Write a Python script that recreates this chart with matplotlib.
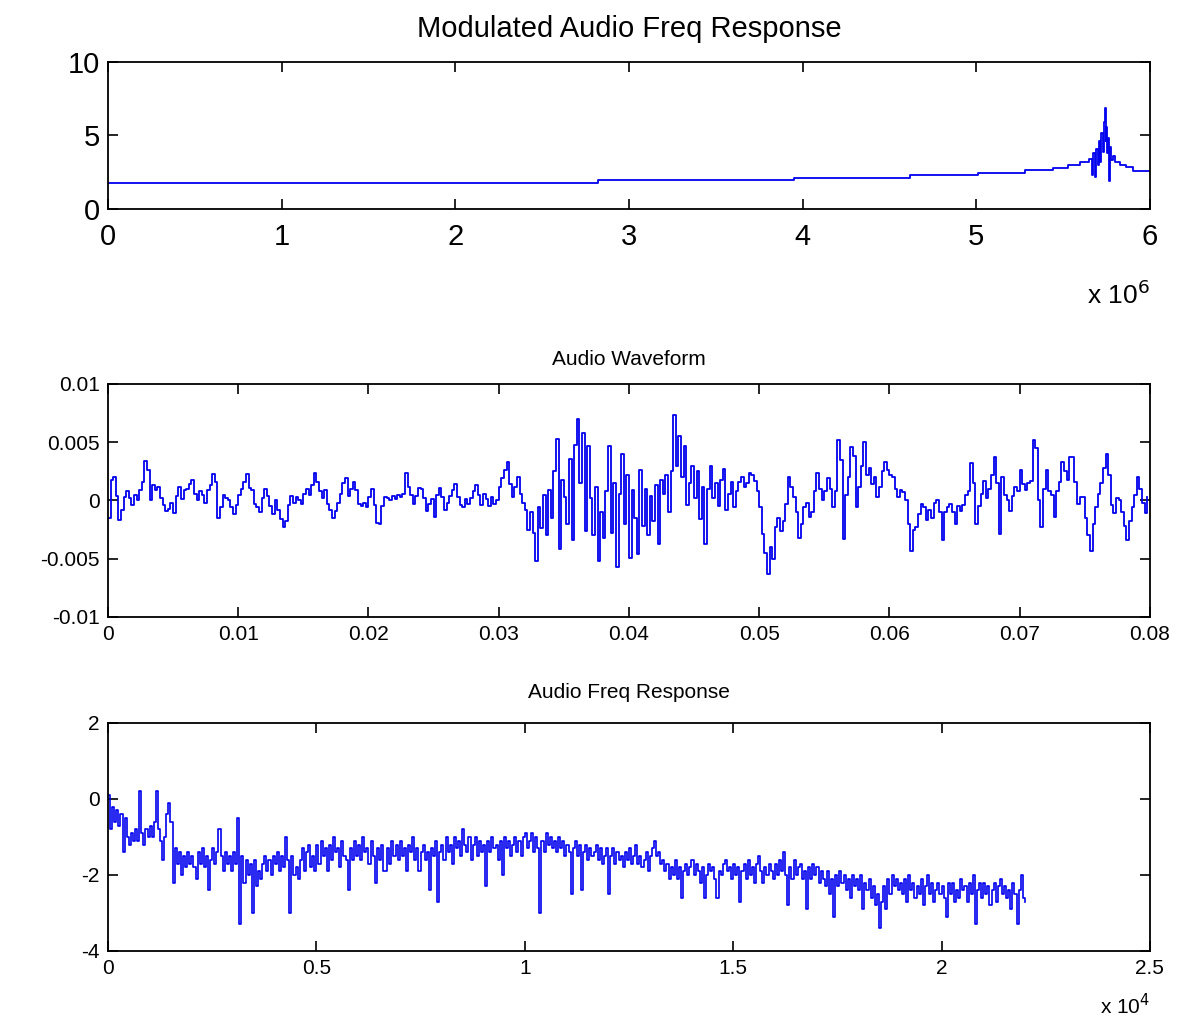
import matplotlib
matplotlib.use("Agg")
import matplotlib.pyplot as plt
import numpy as np

# --- modulated spectrum (x in units of 1e6) ---
MOD_FREQ = [0.00, 2.82, 3.95, 4.62, 5.01, 5.28, 5.44, 5.53, 5.60, 5.65,
            5.665, 5.675, 5.685, 5.69, 5.70, 5.705, 5.715, 5.72, 5.73, 5.735,
            5.74, 5.745, 5.75, 5.755, 5.76, 5.765, 5.77, 5.775, 5.785, 5.80,
            5.83, 5.86, 5.90, 6.00]
MOD_MAG = [1.78, 1.95, 2.12, 2.30, 2.46, 2.64, 2.82, 3.0, 3.2, 3.4,
           2.3, 3.8, 2.2, 4.1, 3.0, 4.6, 3.2, 5.2, 3.9, 5.9,
           6.9, 4.6, 5.6, 3.8, 4.8, 1.9, 4.2, 3.3, 3.6, 3.2,
           3.0, 2.85, 2.6, 2.6]

# --- audio waveform, 400 samples over 0.08 s, values in units of 1e-3 ---
WAVE_DT = 0.0002
WAVE_MILLI = [
    -1.5, 1.8, 2.0, 0.4, -1.7, -0.8, 0.3, 0.8, 0.2, -0.4,
    0.5, 0.0, 0.9, 1.6, 3.4, 2.6, 0.0, 1.3, 0.9, 1.2,
    0.2, -0.4, -0.9, -0.7, -0.2, -1.1, 0.4, 1.2, 0.1, 0.9,
    1.0, 1.4, 1.8, 0.6, 0.0, 0.8, 0.5, -0.2, 0.9, 1.3,
    2.3, 1.6, -1.5, -0.6, 0.5, 0.2, 0.0, -0.6, -1.2, -0.4,
    0.5, 1.0, 1.6, 2.3, 1.1, 0.9, -0.3, -0.6, -1.0, 0.2,
    1.0, 0.4, -0.5, -1.2, 0.0, -0.8, -1.6, -2.3, -1.8, -0.4,
    0.4, -0.2, 0.3, 0.0, -0.3, 0.6, 1.0, 0.5, 1.3, 2.4,
    1.6, 0.8, 0.2, 0.9, -0.3, -0.8, -1.5, -0.9, -0.2, 0.6,
    1.5, 1.9, 0.4, 1.0, 1.6, 0.9, -0.3, -0.5, -0.2, -0.6,
    0.3, 1.0, -0.4, -1.9, -2.0, -0.5, 0.3, 0.2, 0.0, 0.4,
    0.1, 0.5, 0.3, 0.6, 2.4, 1.2, 0.5, -0.3, 0.4, 1.1,
    1.0, 0.2, -0.9, -0.3, 0.1, -1.4, 0.5, 1.1, 0.3, -0.8,
    -0.2, 0.4, 0.9, 1.4, 0.3, -0.4, -0.6, 0.1, -0.3, 0.2,
    0.8, 1.3, 0.5, -0.4, 0.6, 0.1, -0.5, 0.3, -0.3, 0.0,
    1.2, 1.9, 2.6, 3.3, 1.4, 0.3, 1.2, 2.0, 0.6, -0.2,
    -0.8, -2.5, -1.0, -2.8, -5.2, -0.6, -2.4, 0.5, -3.0, 0.9,
    -1.5, 2.5, 5.3, -4.2, 1.8, 0.3, -2.0, 3.6, -3.4, 4.8,
    7.0, 1.5, 5.8, -2.6, 4.7, 0.2, -3.0, 1.2, -5.2, -1.0,
    -3.2, 0.8, 4.7, -2.8, 1.5, -5.7, 0.6, 4.0, -2.0, 2.2,
    -4.9, 0.9, -1.5, -4.6, 2.6, -2.2, 1.0, -3.0, 0.4, -1.8,
    1.3, -3.7, 1.8, 0.6, 2.2, -1.0, 2.5, 7.3, 3.0, 5.5,
    2.0, 4.7, -0.4, 1.5, 3.0, 0.2, 2.5, -1.6, 1.2, -3.7,
    1.0, 3.0, 0.2, 1.5, -0.5, 1.8, 2.7, -0.8, 0.6, 1.6,
    -0.6, 0.8, 1.6, 2.0, 1.2, 1.5, 2.4, 2.2, 1.7, 0.8,
    -0.6, -2.9, -4.5, -6.3, -4.0, -5.0, -2.3, -1.5, -2.6, -1.8,
    -0.3, 2.0, 1.2, 0.3, -1.0, -3.2, -2.0, -0.6, -0.2, -1.4,
    -1.0, 0.8, 2.4, 1.0, 0.0, 0.8, 1.9, 1.0, -0.6, 0.8,
    5.2, 3.5, -3.3, 0.5, 2.0, 4.6, 3.8, -0.6, 1.2, 3.0,
    5.0, 2.2, 2.8, 1.4, 2.0, 0.3, 1.2, 2.5, 3.3, 2.6,
    2.2, 2.0, 1.0, 0.3, 0.9, 0.7, 0.0, -2.0, -4.3, -2.5,
    -2.3, -1.2, -0.3, -0.6, -1.7, -0.8, -1.5, -0.2, 0.0, -1.0,
    -3.4, -1.0, -0.6, -0.3, -1.0, -2.0, -0.5, -0.9, -0.4, 0.5,
    0.8, 3.2, 1.5, -2.0, -0.5, 0.6, 1.7, 0.2, 1.0, 2.2,
    3.7, 1.5, -2.9, 2.0, 0.5, 0.0, -0.9, 0.4, 1.2, 0.8,
    2.6, 1.4, 0.9, 1.5, 1.7, 5.2, 4.5, 0.0, -2.3, 1.0,
    2.6, 0.8, 0.5, -1.4, 0.8, 1.6, 3.3, 2.5, 1.8, 3.7,
    3.7, 1.6, -0.3, 0.3, 0.3, -1.5, -3.0, -4.3, -2.0, -0.6,
    0.6, 1.5, 2.8, 4.0, 2.2, -0.4, -1.1, 0.2, 0.0, -1.0,
    -2.2, -3.4, -1.8, -0.6, 0.5, 2.0, 1.0, -0.2, -1.1, 0.3,
]

# --- audio spectrum (x in units of 1e4, step 0.005) ---
SPEC_DF = 0.005
SPEC_MAG = [
    0.1, -0.8, -0.2, -0.6, -0.3, -0.7, -0.4, -1.4, -0.5, -1.0, -1.2, -0.9, -1.1, -0.8, -1.1, 0.2, -0.9, -1.2, -0.8, -1.0,
    -0.7, -1.0, -0.6, 0.2, -0.8, -1.1, -1.6, -1.0, -0.4, -0.1, -0.6, -2.2, -1.3, -1.7, -1.4, -2.0, -1.5, -1.8, -1.4, -1.7,
    -1.5, -1.8, -2.1, -1.4, -1.7, -1.3, -1.8, -1.5, -2.4, -1.6, -1.3, -1.7, -1.4, -0.8, -1.5, -1.9, -1.4, -1.7, -1.5, -1.9,
    -1.4, -1.7, -0.5, -3.3, -1.5, -2.2, -1.6, -2.0, -1.7, -3.0, -1.6, -2.3, -1.9, -2.1, -1.7, -1.5, -1.9, -1.6, -2.0, -1.5,
    -1.7, -1.4, -1.9, -1.5, -1.8, -1.0, -1.6, -3.0, -1.5, -2.0, -1.8, -2.1, -1.6, -1.3, -1.9, -1.4, -1.2, -1.8, -1.5, -1.9,
    -1.2, -1.7, -1.1, -1.5, -1.3, -1.9, -1.2, -1.6, -1.0, -1.4, -1.3, -1.8, -1.1, -1.5, -1.6, -2.4, -1.3, -1.6, -1.1, -1.5,
    -1.2, -1.6, -1.0, -1.4, -1.3, -1.7, -1.1, -1.5, -2.2, -1.3, -1.6, -1.2, -1.9, -1.9, -1.3, -1.7, -1.1, -1.5, -1.2, -1.6,
    -1.1, -1.5, -1.3, -1.9, -1.2, -1.4, -1.0, -1.6, -1.3, -1.9, -1.4, -1.2, -1.6, -1.4, -2.4, -1.3, -1.5, -1.1, -2.7, -1.4,
    -1.2, -1.6, -1.0, -1.4, -1.2, -1.7, -1.0, -1.3, -1.1, -1.5, -0.8, -1.2, -1.4, -1.0, -1.6, -1.2, -1.0, -1.5, -1.1, -1.4,
    -1.2, -2.3, -1.1, -1.4, -1.0, -1.3, -1.2, -1.6, -1.1, -2.0, -1.0, -1.3, -1.1, -1.5, -1.2, -1.0, -1.4, -1.1, -1.5, -1.0,
    -0.9, -1.3, -1.1, -0.9, -1.4, -1.0, -1.3, -3.0, -1.1, -1.4, -0.9, -1.2, -1.0, -1.3, -1.1, -1.4, -1.0, -1.3, -1.1, -1.5,
    -1.2, -1.4, -2.5, -1.3, -1.1, -1.5, -1.2, -2.4, -1.4, -1.2, -1.6, -1.3, -1.5, -1.4, -1.2, -1.6, -1.3, -1.7, -1.5, -1.3,
    -2.5, -1.5, -1.3, -1.7, -1.4, -1.6, -1.5, -1.8, -1.4, -1.6, -1.3, -1.7, -1.5, -1.2, -1.7, -1.5, -1.8, -1.6, -1.4, -1.9,
    -1.5, -1.3, -1.1, -1.5, -1.4, -1.7, -1.6, -1.9, -1.7, -2.1, -1.8, -2.0, -1.6, -2.1, -1.8, -2.6, -1.9, -1.7, -2.0, -1.8,
    -1.6, -2.0, -1.7, -1.9, -2.2, -1.8, -2.6, -2.0, -1.7, -1.9, -1.8, -2.1, -2.6, -1.9, -2.0, -1.7, -1.6, -1.9, -1.8, -2.1,
    -1.7, -2.0, -1.8, -2.7, -1.9, -1.7, -2.1, -1.6, -2.0, -1.8, -2.2, -1.7, -1.5, -1.9, -2.2, -1.8, -2.0, -1.7, -1.9, -2.1,
    -1.7, -2.0, -1.6, -1.9, -1.4, -2.0, -2.8, -1.8, -2.1, -1.6, -2.0, -1.8, -1.7, -2.1, -1.9, -2.9, -1.8, -2.1, -1.7, -2.0,
    -1.8, -2.2, -1.9, -2.1, -2.3, -1.9, -2.5, -2.1, -3.1, -2.0, -2.3, -1.9, -2.2, -2.0, -2.4, -2.1, -2.6, -2.0, -2.3, -2.1,
    -2.4, -2.0, -2.9, -2.2, -2.4, -2.1, -2.6, -2.3, -2.8, -2.5, -3.4, -2.7, -2.3, -2.9, -2.1, -2.5, -2.0, -2.3, -2.1, -2.4,
    -2.2, -2.5, -2.1, -2.7, -2.0, -2.4, -2.2, -2.6, -2.3, -2.5, -2.1, -2.8, -2.3, -2.0, -2.5, -2.2, -2.7, -2.4, -2.2, -2.5,
    -2.3, -2.6, -3.1, -2.2, -2.5, -2.2, -2.7, -2.4, -2.6, -2.1, -2.4, -2.3, -2.7, -2.2, -2.5, -2.0, -3.3, -2.4, -2.2, -2.6,
    -2.2, -2.5, -2.3, -2.8, -2.4, -2.2, -2.7, -2.3, -2.1, -2.5, -2.3, -2.6, -2.4, -2.9, -2.2, -2.5, -3.3, -2.4, -2.0, -2.6,
    -2.7,
]

LINE_COLOR = "#0000ee"
plt.rcParams["font.family"] = ["Liberation Sans", "DejaVu Sans"]
plt.rcParams["axes.unicode_minus"] = False


def style_axes(ax, labelsize, pad=6):
    ax.tick_params(direction="in", top=True, right=True, length=7, width=1.2,
                   labelsize=labelsize, colors="black", pad=pad)
    for s in ax.spines.values():
        s.set_linewidth(1.3)


fig = plt.figure(figsize=(11.84, 10.21), dpi=100)

# top: modulated audio spectrum
ax1 = fig.add_axes([0.0912, 0.7953, 0.880, 0.144])
ax1.plot(MOD_FREQ, MOD_MAG, color=LINE_COLOR, lw=1.3, drawstyle="steps-post")
ax1.set_xlim(0, 6)
ax1.set_ylim(0, 10)
ax1.set_xticks(range(0, 7))
ax1.set_yticks([0, 5, 10])
style_axes(ax1, 21)
ax1.tick_params(axis="x", pad=10)
ax1.set_title("Modulated Audio Freq Response", fontsize=21, pad=18)
ax1.text(1.0, -0.58, r"x 10$^{6}$", transform=ax1.transAxes, ha="right", va="center",
         fontsize=19)

# middle: audio waveform
t = np.arange(len(WAVE_MILLI)) * WAVE_DT
wave = np.array(WAVE_MILLI) * 1e-3
ax2 = fig.add_axes([0.0912, 0.3957, 0.880, 0.2282])
ax2.plot(t, wave, color=LINE_COLOR, lw=1.3, drawstyle="steps-post")
ax2.set_xlim(0, 0.08)
ax2.set_ylim(-0.01, 0.01)
ax2.set_xticks(np.arange(9) * 0.01)
ax2.set_xticklabels(["0", "0.01", "0.02", "0.03", "0.04", "0.05", "0.06", "0.07", "0.08"])
ax2.set_yticks([-0.01, -0.005, 0, 0.005, 0.01])
ax2.set_yticklabels(["-0.01", "-0.005", "0", "0.005", "0.01"])
style_axes(ax2, 15)
ax2.set_title("Audio Waveform", fontsize=15, pad=14)

# bottom: audio spectrum
f = np.arange(len(SPEC_MAG)) * SPEC_DF
ax3 = fig.add_axes([0.0912, 0.0686, 0.880, 0.2233])
ax3.plot(f, SPEC_MAG, color=LINE_COLOR, lw=1.2, drawstyle="steps-post")
ax3.set_xlim(0, 2.5)
ax3.set_ylim(-4, 2)
ax3.set_xticks([0, 0.5, 1, 1.5, 2, 2.5])
ax3.set_xticklabels(["0", "0.5", "1", "1.5", "2", "2.5"])
ax3.set_yticks([-4, -2, 0, 2])
style_axes(ax3, 15)
ax3.set_title("Audio Freq Response", fontsize=15, pad=18)
ax3.text(1.0, -0.24, r"x 10$^{4}$", transform=ax3.transAxes, ha="right", va="center",
         fontsize=15)

fig.savefig("out.png", dpi=100)
